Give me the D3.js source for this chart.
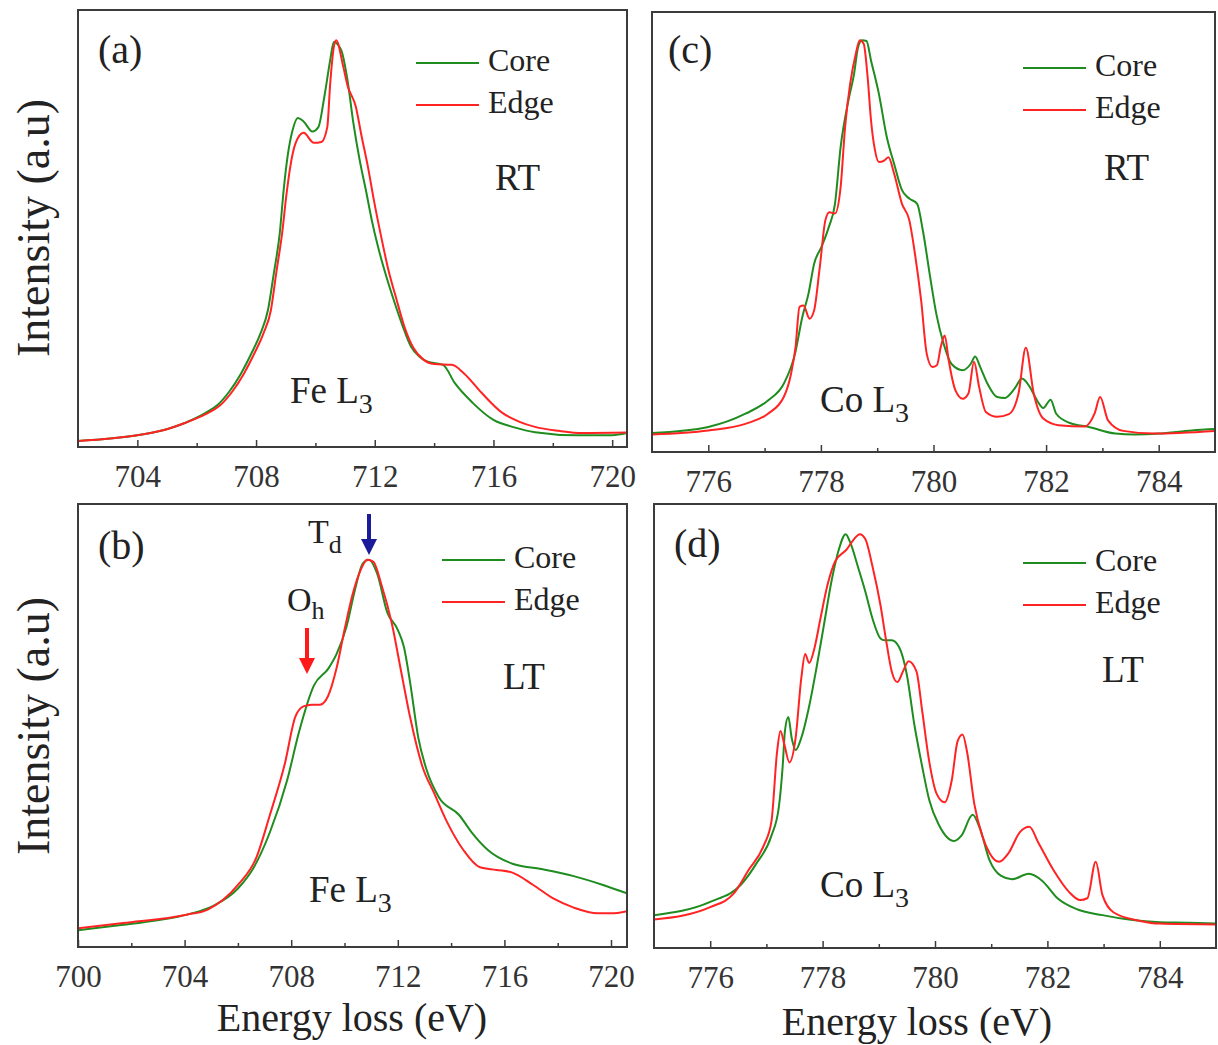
<!DOCTYPE html>
<html>
<head>
<meta charset="utf-8">
<script src="https://cdn.jsdelivr.net/npm/d3@7"></script>
<style>
  body { margin: 0; background: #fff; }
  svg { display: block; }
  text { font-family: "Liberation Serif", "Times New Roman", serif; }
</style>
</head>
<body>
<div id="chart"></div>
<script>
// tick labels
let feTicksA = [704, 708, 712, 716, 720]
let feMinorA = [706, 710, 714, 718]
let feTicksB = [700, 704, 708, 712, 716, 720]
let feMinorB = [702, 706, 710, 714, 718]
let coTicks = [776, 778, 780, 782, 784]
let coMinor = [777, 779, 781, 783]

// series: [energy loss (eV), normalised intensity]
let feRtCore = [[702.0, 0.014], [704.0, 0.027], [704.9, 0.039], [705.6, 0.055], [706.3, 0.078], [706.7, 0.096],
  [707.1, 0.127], [707.5, 0.169], [707.85, 0.215], [708.15, 0.26], [708.4, 0.313], [708.6, 0.398], [708.8, 0.49],
  [708.93, 0.588], [709.06, 0.664], [709.23, 0.725], [709.41, 0.753], [709.6, 0.745], [709.9, 0.722], [710.1, 0.732],
  [710.3, 0.801], [710.5, 0.886], [710.62, 0.927], [710.87, 0.908], [711.08, 0.84], [711.28, 0.741], [711.49, 0.657],
  [711.7, 0.588], [711.9, 0.519], [712.11, 0.458], [712.39, 0.39], [712.67, 0.33], [712.95, 0.275], [713.22, 0.23],
  [713.5, 0.207], [713.78, 0.195], [714.3, 0.188], [714.7, 0.146], [715.3, 0.101], [716.0, 0.062], [716.7, 0.045],
  [717.4, 0.034], [718.8, 0.027], [720.0, 0.027], [720.5, 0.032]]
let feRtEdge = [[702.0, 0.014], [704.0, 0.027], [704.9, 0.039], [705.6, 0.055], [706.3, 0.075], [706.8, 0.096],
  [707.2, 0.127], [707.6, 0.169], [707.95, 0.215], [708.25, 0.26], [708.5, 0.313], [708.68, 0.398], [708.88, 0.49],
  [709.02, 0.575], [709.15, 0.64], [709.32, 0.693], [709.6, 0.719], [709.95, 0.696], [710.2, 0.698], [710.4, 0.732],
  [710.5, 0.833], [710.62, 0.915], [710.7, 0.931], [710.94, 0.87], [711.08, 0.828], [711.36, 0.779], [711.56, 0.71],
  [711.77, 0.641], [711.97, 0.565], [712.19, 0.49], [712.46, 0.405], [712.74, 0.336], [713.0, 0.275], [713.3, 0.227],
  [713.64, 0.2], [714.0, 0.19], [714.6, 0.188], [715.0, 0.169], [715.6, 0.124], [716.3, 0.078], [716.9, 0.057],
  [717.4, 0.046], [718.2, 0.037], [719.0, 0.032], [720.5, 0.033]]

let feLtCore = [[700.0, 0.038], [701.7, 0.05], [704.08, 0.073], [705.08, 0.093], [706.0, 0.132], [706.6, 0.18],
  [707.2, 0.259], [707.85, 0.377], [708.3, 0.487], [708.85, 0.59], [709.4, 0.629], [709.7, 0.661], [710.08, 0.724],
  [710.38, 0.803], [710.69, 0.866], [710.92, 0.874], [711.23, 0.842], [711.6, 0.756], [712.0, 0.716], [712.23, 0.677],
  [712.46, 0.598], [712.77, 0.472], [713.08, 0.4], [713.54, 0.338], [714.3, 0.298], [714.77, 0.259], [715.38, 0.219],
  [716.3, 0.188], [717.38, 0.176], [718.6, 0.16], [719.7, 0.14], [720.6, 0.121]]
let feLtEdge = [[700.0, 0.042], [701.7, 0.054], [704.08, 0.073], [704.85, 0.084], [706.0, 0.14], [706.7, 0.203],
  [707.2, 0.298], [707.77, 0.416], [708.15, 0.519], [708.46, 0.543], [708.77, 0.547], [709.08, 0.547], [709.38, 0.566],
  [709.7, 0.629], [710.0, 0.716], [710.3, 0.795], [710.6, 0.85], [710.85, 0.874], [711.08, 0.87], [711.38, 0.819],
  [711.77, 0.732], [712.15, 0.614], [712.46, 0.519], [712.92, 0.408], [713.38, 0.345], [713.85, 0.282], [714.46, 0.219],
  [715.08, 0.18], [715.7, 0.174], [716.3, 0.168], [717.08, 0.14], [717.85, 0.109], [718.6, 0.089], [719.5, 0.076],
  [720.0, 0.076], [720.6, 0.081]]

let coRtCore = [[775.0, 0.043], [776.0, 0.057], [776.66, 0.087], [777.06, 0.117], [777.34, 0.155], [777.54, 0.223],
  [777.67, 0.307], [777.78, 0.36], [777.88, 0.428], [778.01, 0.466], [778.14, 0.511], [778.25, 0.564], [778.35, 0.693],
  [778.49, 0.8], [778.59, 0.86], [778.66, 0.92], [778.73, 0.936], [778.81, 0.934], [778.89, 0.89], [779.03, 0.814],
  [779.17, 0.716], [779.3, 0.655], [779.44, 0.595], [779.57, 0.576], [779.71, 0.564], [779.81, 0.504], [779.95, 0.39],
  [780.05, 0.314], [780.18, 0.246], [780.32, 0.2], [780.52, 0.186], [780.66, 0.2], [780.74, 0.217], [780.83, 0.193],
  [780.96, 0.155], [781.13, 0.125], [781.27, 0.123], [781.44, 0.144], [781.57, 0.167], [781.71, 0.148], [781.84, 0.117],
  [781.95, 0.1], [782.08, 0.119], [782.18, 0.087], [782.42, 0.066], [782.76, 0.057], [783.23, 0.042], [783.57, 0.04],
  [784.0, 0.042], [784.59, 0.049], [785.0, 0.052]]
let coRtEdge = [[775.0, 0.04], [776.0, 0.049], [776.66, 0.064], [777.06, 0.087], [777.34, 0.125], [777.47, 0.178],
  [777.55, 0.239], [777.62, 0.33], [777.69, 0.333], [777.8, 0.303], [777.88, 0.322], [777.98, 0.42], [778.08, 0.527],
  [778.15, 0.545], [778.25, 0.542], [778.35, 0.602], [778.43, 0.739], [778.52, 0.837], [778.62, 0.905], [778.69, 0.936],
  [778.76, 0.928], [778.83, 0.852], [778.89, 0.754], [778.96, 0.686], [779.03, 0.659], [779.13, 0.663], [779.2, 0.67],
  [779.3, 0.633], [779.44, 0.564], [779.57, 0.527], [779.67, 0.451], [779.78, 0.345], [779.88, 0.223], [779.98, 0.193],
  [780.06, 0.197], [780.13, 0.239], [780.2, 0.265], [780.27, 0.208], [780.39, 0.14], [780.52, 0.121], [780.62, 0.133],
  [780.72, 0.205], [780.81, 0.148], [780.93, 0.091], [781.13, 0.08], [781.34, 0.086], [781.51, 0.133], [781.64, 0.237],
  [781.78, 0.133], [781.95, 0.076], [782.22, 0.061], [782.69, 0.058], [782.86, 0.087], [782.96, 0.125], [783.1, 0.072],
  [783.37, 0.048], [783.91, 0.042], [785.0, 0.048]]

let coLtCore = [[775.0, 0.074], [776.0, 0.104], [776.55, 0.143], [776.82, 0.19], [777.09, 0.253], [777.22, 0.316],
  [777.29, 0.41], [777.33, 0.489], [777.39, 0.52], [777.45, 0.473], [777.52, 0.446], [777.62, 0.473], [777.76, 0.544],
  [777.89, 0.63], [778.02, 0.725], [778.16, 0.827], [778.29, 0.898], [778.41, 0.932], [778.49, 0.914], [778.63, 0.858],
  [778.76, 0.803], [778.89, 0.741], [779.03, 0.697], [779.1, 0.693], [779.23, 0.693], [779.36, 0.678], [779.5, 0.615],
  [779.63, 0.505], [779.77, 0.41], [779.9, 0.332], [780.07, 0.277], [780.34, 0.241], [780.47, 0.253], [780.67, 0.3],
  [780.8, 0.269], [780.97, 0.198], [781.17, 0.163], [781.37, 0.155], [781.67, 0.167], [781.91, 0.151], [782.18, 0.112],
  [782.51, 0.088], [782.98, 0.074], [783.45, 0.064], [784.0, 0.058], [784.52, 0.057], [785.0, 0.055]]
let coLtEdge = [[775.0, 0.064], [776.0, 0.092], [776.42, 0.123], [776.68, 0.175], [776.95, 0.23], [777.09, 0.285],
  [777.19, 0.442], [777.25, 0.489], [777.32, 0.458], [777.41, 0.418], [777.52, 0.473], [777.62, 0.607], [777.69, 0.662],
  [777.76, 0.642], [777.86, 0.678], [777.96, 0.741], [778.09, 0.819], [778.22, 0.87], [778.43, 0.898], [778.56, 0.921],
  [778.66, 0.932], [778.76, 0.921], [778.89, 0.858], [779.03, 0.772], [779.13, 0.693], [779.23, 0.623], [779.33, 0.599],
  [779.43, 0.623], [779.53, 0.646], [779.67, 0.623], [779.77, 0.536], [779.9, 0.418], [780.03, 0.347], [780.17, 0.328],
  [780.3, 0.379], [780.4, 0.465], [780.49, 0.481], [780.57, 0.442], [780.7, 0.324], [780.84, 0.253], [780.97, 0.214],
  [781.14, 0.194], [781.31, 0.214], [781.51, 0.261], [781.68, 0.273], [781.84, 0.237], [782.11, 0.175], [782.38, 0.127],
  [782.58, 0.108], [782.71, 0.112], [782.86, 0.194], [782.98, 0.119], [783.18, 0.08], [783.65, 0.061], [784.0, 0.055],
  [785.0, 0.053]]

let seriesNames = ["Core", "Edge"]
let seriesColors = ["#1f8c1f", "#ff2323"]

let font = "Liberation Serif, Times New Roman, serif"
let inkColor = "#222"
let frameColor = "#3c3c3c"

let panels = [
  {tag: "(a)", cond: "RT", elem: "Fe", box: [78, 627, 10, 447], dom: [702, 720.5],
   ticks: feTicksA, minor: feMinorA, data: [feRtCore, feRtEdge],
   tagPos: [98, 63], legPos: [416, 63], condPos: [495, 190], elemPos: [290, 403]},
  {tag: "(b)", cond: "LT", elem: "Fe", box: [78, 627, 504, 947], dom: [700, 720.6],
   ticks: feTicksB, minor: feMinorB, data: [feLtCore, feLtEdge],
   tagPos: [98, 559], legPos: [442, 560], condPos: [503, 689], elemPos: [309, 902]},
  {tag: "(c)", cond: "RT", elem: "Co", box: [652, 1215, 12, 452], dom: [775, 785],
   ticks: coTicks, minor: coMinor, data: [coRtCore, coRtEdge],
   tagPos: [668, 63], legPos: [1023, 68], condPos: [1104, 180], elemPos: [820, 412]},
  {tag: "(d)", cond: "LT", elem: "Co", box: [654, 1216, 504, 948], dom: [775, 785],
   ticks: coTicks, minor: coMinor, data: [coLtCore, coLtEdge],
   tagPos: [674, 557], legPos: [1023, 563], condPos: [1102, 682], elemPos: [820, 897]}
]

let svg = d3.select("#chart")
    .append("svg")
    .attr("width", 1218)
    .attr("height", 1045)
    .attr("font-family", font)

panels.forEach((p, i) => {
    let [left, right, top, bottom] = p.box
    let x = d3.scaleLinear().domain(p.dom).range([left, right])
    let y = d3.scaleLinear().domain([0, 1]).range([bottom, top])

    let g = svg.append("g")

    // clip so the curves stay in the frame
    g.append("clipPath").attr("id", "clip" + i)
        .append("rect")
        .attr("x", left).attr("y", top)
        .attr("width", right - left).attr("height", bottom - top)

    let line = d3.line()
        .curve(d3.curveMonotoneX)
        .x(d => x(d[0]))
        .y(d => y(d[1]))

    // core first, edge drawn on top
    p.data.forEach((series, k) => {
        g.append("path")
            .datum(series)
            .attr("clip-path", "url(#clip" + i + ")")
            .attr("fill", "none")
            .attr("stroke", seriesColors[k])
            .attr("stroke-width", 2)
            .attr("stroke-linejoin", "round")
            .attr("d", line)
    })

    // major ticks pointing inward
    let ax = g.append("g")
        .attr("transform", "translate(0," + bottom + ")")
        .call(d3.axisBottom(x).tickValues(p.ticks).tickSizeInner(-7).tickSizeOuter(0).tickPadding(18))
        .attr("font-family", font)
        .attr("font-size", 31)
    ax.select(".domain").remove()
    ax.selectAll("line").attr("stroke", frameColor).attr("stroke-width", 1.5)
    ax.selectAll("text").attr("fill", "#333")

    // minor ticks
    let mx = g.append("g")
        .attr("transform", "translate(0," + bottom + ")")
        .call(d3.axisBottom(x).tickValues(p.minor).tickSize(-4).tickFormat(""))
    mx.select(".domain").remove()
    mx.selectAll("line").attr("stroke", frameColor).attr("stroke-width", 1.5)

    // frame
    g.append("rect")
        .attr("x", left).attr("y", top)
        .attr("width", right - left).attr("height", bottom - top)
        .attr("fill", "none")
        .attr("stroke", frameColor)
        .attr("stroke-width", 2)

    // panel tag
    g.append("text")
        .attr("x", p.tagPos[0]).attr("y", p.tagPos[1])
        .attr("fill", inkColor)
        .attr("font-size", 40)
        .text(p.tag)

    // legend
    seriesNames.forEach((name, k) => {
        let ly = p.legPos[1] + k * 42
        g.append("line")
            .attr("x1", p.legPos[0]).attr("x2", p.legPos[0] + 63)
            .attr("y1", ly).attr("y2", ly)
            .attr("stroke", seriesColors[k])
            .attr("stroke-width", 1.8)
        g.append("text")
            .attr("x", p.legPos[0] + 72).attr("y", ly + 8)
            .attr("fill", inkColor)
            .attr("font-size", 32)
            .text(name)
    })

    // RT / LT
    g.append("text")
        .attr("x", p.condPos[0]).attr("y", p.condPos[1])
        .attr("fill", inkColor)
        .attr("font-size", 37)
        .text(p.cond)

    // Fe L3 / Co L3
    let el = g.append("text")
        .attr("x", p.elemPos[0]).attr("y", p.elemPos[1])
        .attr("fill", inkColor)
        .attr("font-size", 37)
    el.append("tspan").text(p.elem + " L")
    el.append("tspan").attr("dy", 10).attr("font-size", 28).text("3")
})

// y axis titles
;[228, 726].forEach(cy => {
    svg.append("text")
        .attr("transform", "translate(49," + cy + ") rotate(-90)")
        .attr("text-anchor", "middle")
        .attr("fill", inkColor)
        .attr("font-size", 46)
        .text("Intensity (a.u)")
})

// x axis titles
;[[352, 1031], [917, 1035]].forEach(pos => {
    svg.append("text")
        .attr("x", pos[0]).attr("y", pos[1])
        .attr("text-anchor", "middle")
        .attr("fill", inkColor)
        .attr("font-size", 40)
        .text("Energy loss (eV)")
})

// site labels in (b)
let td = svg.append("text").attr("x", 308).attr("y", 543).attr("fill", inkColor).attr("font-size", 34)
td.append("tspan").text("T")
td.append("tspan").attr("dy", 10).attr("font-size", 26).text("d")
let oh = svg.append("text").attr("x", 287).attr("y", 611).attr("fill", inkColor).attr("font-size", 34)
oh.append("tspan").text("O")
oh.append("tspan").attr("dy", 8).attr("font-size", 26).text("h")

// arrows
function arrow(cx, y0, y1, color) {
    svg.append("line")
        .attr("x1", cx).attr("x2", cx)
        .attr("y1", y0).attr("y2", y1 - 14)
        .attr("stroke", color).attr("stroke-width", 4)
    svg.append("path")
        .attr("d", "M" + (cx - 8) + "," + (y1 - 16) + "L" + (cx + 8) + "," + (y1 - 16) + "L" + cx + "," + y1 + "Z")
        .attr("fill", color)
}
arrow(369, 514, 555, "#1a1a9a")
arrow(307, 628, 674, "#ff1a1a")
</script>
</body>
</html>
